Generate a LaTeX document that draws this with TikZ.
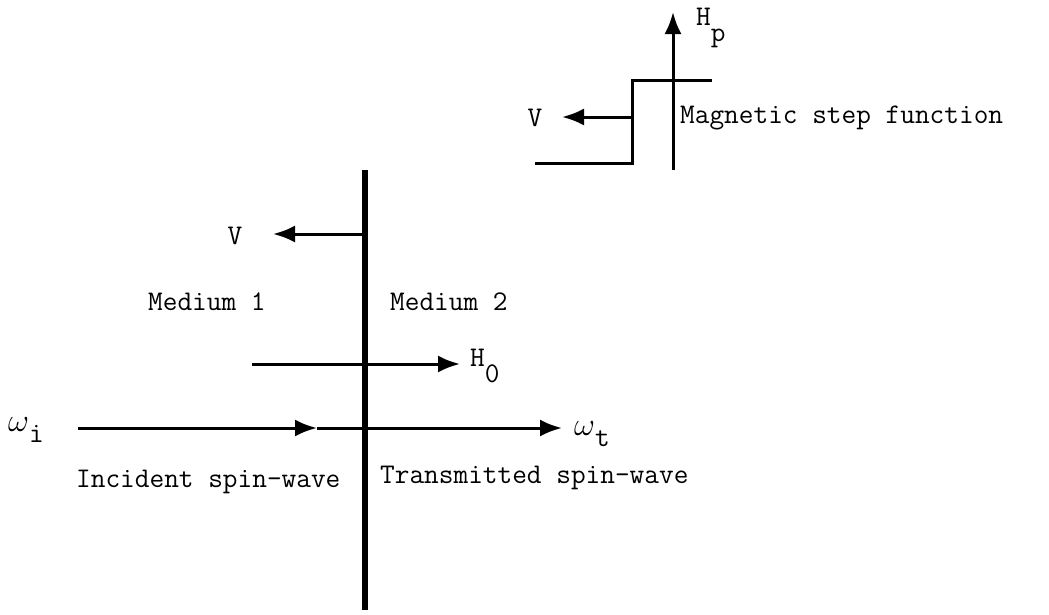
\documentclass[tikz,border=0pt]{standalone}
\usetikzlibrary{arrows.meta}
\begin{document}
\begin{tikzpicture}[x=1pt,y=-1pt,
  lbl/.style={font=\fontsize{28.5}{33}\selectfont\ttfamily, inner sep=0pt},
  thinln/.style={line width=3pt},
  wall/.style={line width=6pt},
  arr/.style={line width=3pt,-{Latex[length=22pt,width=17pt]}},
]
\useasboundingbox (0,0) rectangle (1049,614);
% main interface
\coordinate (wt) at (365,170);
\coordinate (wb) at (365,610);
\draw[wall] (wt) -- (wb);
% V arrow at interface
\coordinate (vs) at (365,234);
\coordinate (ve) at (273,234);
\draw[arr] (vs) -- (ve);
\node[lbl] (vlab) at (235,236) {V};
% media labels
\node[lbl, anchor=west] (m1) at (148,302) {Medium 1};
\node[lbl, anchor=west] (m2) at (390,302) {Medium 2};
% H0
\coordinate (hs) at (252,364);
\coordinate (he) at (460,364);
\draw[arr] (hs) -- (he);
\node[lbl, anchor=west] (h0) at (470,366) {H\raisebox{-0.55em}{0}};
% incident / transmitted
\coordinate (is) at (78,428);
\coordinate (im) at (317,428);
\coordinate (ic) at (365,428);
\coordinate (te) at (562,428);
\draw[arr] (is) -- (im);
\draw[thinln] (im) -- (ic);
\draw[arr] (ic) -- (te);
\node[lbl, anchor=west] (wi) at (8,430) {\scalebox{1.3}{$\omega$}\raisebox{-0.4em}{i}};
\node[lbl, anchor=west] (wtl) at (574,434) {\scalebox{1.3}{$\omega$}\raisebox{-0.4em}{t}};
\node[lbl, anchor=west] (inc) at (76,482) {Incident spin-wave};
\node[lbl, anchor=west] (tra) at (380,478) {Transmitted spin-wave};
% step function
\coordinate (s1) at (535,163);
\coordinate (s2) at (632,163);
\coordinate (s3) at (632,80);
\coordinate (s4) at (712,80);
\draw[thinln] (s1) -- (s2) -- (s3) -- (s4);
\coordinate (hpb) at (673,170);
\coordinate (hpt) at (673,12);
\draw[arr] (hpb) -- (hpt);
\node[lbl, anchor=west] (hp) at (696,28) {H\raisebox{-0.55em}{p}};
\coordinate (v2s) at (632,117);
\coordinate (v2e) at (562,117);
\draw[arr] (v2s) -- (v2e);
\node[lbl] (v2lab) at (535,118) {V};
\node[lbl, anchor=west] (msf) at (680,118) {Magnetic step function};
\end{tikzpicture}
\end{document}
